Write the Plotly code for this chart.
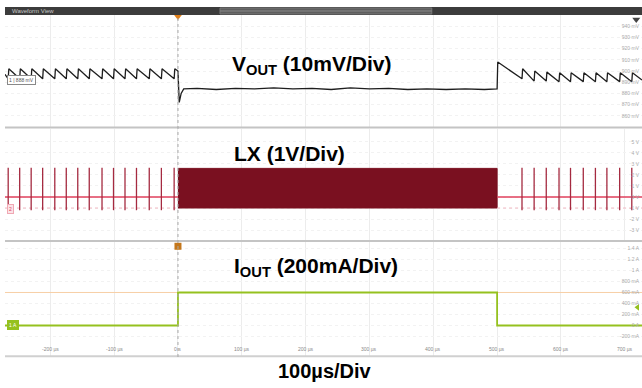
import plotly.graph_objects as go

# time base, microseconds
x_range = [-271, 727]
x_ticks = [-200, -100, 0, 100, 200, 300, 400, 500, 600, 700]
x_tick_text = ["-200 µs", "-100 µs", "0 s", "100 µs", "200 µs",
               "300 µs", "400 µs", "500 µs", "600 µs", "700 µs"]

# VOUT trace vertices (µs, mV)
vout_t = [-271, -266, -265, -248, -247, -230, -229, -212, -211, -193, -192,
          -175, -174, -157, -156, -139, -138, -119, -118, -101, -100, -83, -82,
          -65, -64, -45, -44, -26, -25, -6, -5, 0,
          2, 5, 9, 30, 60, 90, 120, 150, 180, 210, 240, 270, 300, 330, 360,
          390, 420, 450, 480, 499,
          500, 501, 539, 540, 558, 559, 577, 578, 597, 598, 615, 616, 635, 636,
          654, 655, 672, 673, 692, 693, 711, 712, 727]
vout_mv = [897, 893, 902, 893, 902, 893, 902, 893, 902, 893, 902,
           893, 902, 893, 902, 893, 902, 893, 902, 893, 902, 893, 902,
           893, 902, 893, 902, 893, 902, 893, 902, 900,
           872, 880, 884, 884.5, 883.5, 884.5, 884, 885, 884, 884.5, 883.5, 885,
           884, 884.5, 883.5, 884, 883.5, 884, 883.5, 883.5,
           884, 908, 893, 902, 891, 900, 891, 899, 890.5, 898.5, 890.5, 898.5,
           890.5, 898.5, 890.5, 898.5, 890.5, 898.5, 890.5, 898.5, 890.5,
           898.5, 892]
vout_ticks = [860, 870, 880, 890, 900, 910, 920, 930, 940]
vout_tick_text = ["860 mV", "870 mV", "880 mV", "890 mV", "900 mV",
                  "910 mV", "920 mV", "930 mV", "940 mV"]

# LX switch node (V)
lx_pulse_t = [-266, -248, -230, -212, -193, -175, -157, -139, -119, -101,
              -83, -65, -45, -26, -6,
              539, 558, 577, 597, 615, 635, 654, 672, 692, 711]
lx_pulse_high = 2.65
lx_pulse_low = -1.2
lx_idle_t = [-271, 0, None, 500, 727]
lx_idle_v = [0, 0, None, 0, 0]
lx_burst_t = [0, 500]
lx_burst_high = 2.6
lx_burst_low = -1.0
lx_ticks = [-3, -2, -1, 0, 1, 2, 3, 4, 5]
lx_tick_text = ["-3 V", "-2 V", "-1 V", "0 V", "1 V", "2 V", "3 V", "4 V", "5 V"]

# IOUT load step (A)
iout_t = [-271, 0, 0, 500, 500, 727]
iout_a = [0, 0, 0.6, 0.6, 0, 0]
iout_ticks = [-0.2, 0, 0.2, 0.4, 0.6, 0.8, 1.0, 1.2, 1.4]
iout_tick_text = ["-200 mA", "0 A", "200 mA", "400 mA", "600 mA",
                  "800 mA", "1 A", "1.2 A", "1.4 A"]
trigger_level = 0.6

FONT = "Liberation Sans, Arial, sans-serif"
GRID = "#ececec"

fig = go.Figure()

# VOUT
fig.add_trace(go.Scatter(x=vout_t, y=vout_mv, mode="lines",
                         line=dict(color="#1e1e1e", width=1.3),
                         xaxis="x", yaxis="y", hoverinfo="skip"))

# LX burst during load, idle baseline, pulses in PFM
fig.add_trace(go.Scatter(
    x=[lx_burst_t[0], lx_burst_t[1], lx_burst_t[1], lx_burst_t[0]],
    y=[lx_burst_high, lx_burst_high, lx_burst_low, lx_burst_low],
    fill="toself", fillcolor="#7a1020", mode="lines",
    line=dict(color="#7a1020", width=1), xaxis="x2", yaxis="y2", hoverinfo="skip"))
fig.add_trace(go.Scatter(x=lx_idle_t, y=[lx_burst_low] * 2 + [None] + [lx_burst_low] * 2,
                         mode="lines", line=dict(color="#f2b8c2", width=1, dash="dot"),
                         xaxis="x2", yaxis="y2", hoverinfo="skip"))
fig.add_trace(go.Scatter(x=lx_idle_t, y=lx_idle_v, mode="lines",
                         line=dict(color="#e0405c", width=1.3),
                         xaxis="x2", yaxis="y2", hoverinfo="skip"))
px, py = [], []
for t in lx_pulse_t:
    px += [t, t, None]
    py += [lx_pulse_low, lx_pulse_high, None]
fig.add_trace(go.Scatter(x=px, y=py, mode="lines",
                         line=dict(color="#a52a40", width=1.3),
                         xaxis="x2", yaxis="y2", hoverinfo="skip"))

# IOUT
fig.add_trace(go.Scatter(x=x_range, y=[trigger_level] * 2, mode="lines",
                         line=dict(color="#f7cfa6", width=1),
                         xaxis="x3", yaxis="y3", hoverinfo="skip"))
fig.add_trace(go.Scatter(x=iout_t, y=iout_a, mode="lines",
                         line=dict(color="#95c11f", width=1.8),
                         xaxis="x3", yaxis="y3", hoverinfo="skip"))

# trigger markers
fig.add_trace(go.Scatter(x=[0], y=[949], mode="markers", cliponaxis=False,
                         marker=dict(symbol="triangle-down", size=8, color="#e0801a"),
                         xaxis="x", yaxis="y", hoverinfo="skip"))
fig.add_trace(go.Scatter(x=[0], y=[1.44], mode="markers", cliponaxis=False,
                         marker=dict(symbol="square", size=7, color="#c4771c"),
                         xaxis="x3", yaxis="y3", hoverinfo="skip"))
fig.add_trace(go.Scatter(x=[718], y=[946], mode="markers",
                         marker=dict(symbol="triangle-down", size=7, color="#444"),
                         xaxis="x", yaxis="y", hoverinfo="skip"))
fig.add_trace(go.Scatter(x=[720], y=[0.33], mode="markers",
                         marker=dict(symbol="triangle-left", size=6, color="#95c11f"),
                         xaxis="x3", yaxis="y3", hoverinfo="skip"))

xcommon = dict(range=x_range, tickvals=x_ticks, showgrid=True, gridcolor=GRID,
               zeroline=False, showline=False, ticks="", fixedrange=True,
               showticklabels=False)
ycommon = dict(side="right", ticklabelposition="inside", showgrid=True,
               gridcolor="#f2f2f2", griddash="dot", zeroline=False, ticks="",
               fixedrange=True, tickfont=dict(size=5, color="#aaa", family=FONT))

fig.update_layout(
    width=642, height=388,
    margin=dict(l=5, r=0, t=15, b=31),
    paper_bgcolor="white", plot_bgcolor="white",
    showlegend=False,
    xaxis=dict(xcommon, anchor="y"),
    xaxis2=dict(xcommon, anchor="y2", matches="x"),
    xaxis3=dict(xcommon, anchor="y3", matches="x"),
    yaxis=dict(ycommon, domain=[0.6725, 1], anchor="x", range=[850, 950],
               tickvals=vout_ticks, ticktext=vout_tick_text),
    yaxis2=dict(ycommon, domain=[0.342, 0.6667], anchor="x2", range=[-3.91, 6.18],
                tickvals=lx_ticks, ticktext=lx_tick_text),
    yaxis3=dict(ycommon, domain=[0, 0.3363], anchor="x3", range=[-0.573, 1.518],
                tickvals=iout_ticks, ticktext=iout_tick_text),
)

# time labels sit inside the bottom of the last panel
for t, label in zip(x_ticks, x_tick_text):
    fig.add_annotation(text=label, x=t, y=0.022, xref="x3", yref="paper",
                       showarrow=False, xanchor="center", yanchor="middle",
                       font=dict(family=FONT, size=5, color="#888"))

# header bar, panel separators, trigger line
shapes = [
    dict(type="rect", xref="paper", yref="paper", x0=0, x1=1, y0=1.0, y1=1.0234,
         fillcolor="#3c3c3c", line=dict(width=0)),
    dict(type="rect", xref="paper", yref="paper", x0=0.3375, x1=0.670, y0=1.003, y1=1.0205,
         fillcolor="#5e5e5e", line=dict(color="#777", width=1)),
    dict(type="line", xref="paper", yref="paper", x0=0.3375, x1=0.670, y0=1.0117, y1=1.0117,
         line=dict(color="#8a8a8a", width=1)),
    dict(type="line", xref="paper", yref="paper", x0=0, x1=1, y0=0.671, y1=0.671,
         line=dict(color="#c4c4c4", width=2)),
    dict(type="line", xref="paper", yref="paper", x0=0, x1=1, y0=0.339, y1=0.339,
         line=dict(color="#c4c4c4", width=2)),
    dict(type="line", xref="paper", yref="paper", x0=0, x1=1, y0=0.002, y1=0.002,
         line=dict(color="#d0d0d0", width=2)),
    dict(type="line", xref="x", yref="paper", x0=0, x1=0, y0=0, y1=1,
         line=dict(color="#a8a8a8", width=1, dash="dot")),
]
fig.update_layout(shapes=shapes)

title_font = dict(family=FONT, size=21, color="black", weight="bold")
annotations = [
    dict(text="V<sub>OUT</sub> (10mV/Div)", x=0.353, y=0.855, xanchor="left"),
    dict(text="LX (1V/Div)", x=0.356, y=0.594, xanchor="left"),
    dict(text="I<sub>OUT</sub> (200mA/Div)", x=0.356, y=0.262, xanchor="left"),
    dict(text="100µs/Div", x=0.502, y=-0.041, xanchor="center",
         font=dict(family=FONT, size=20, color="black", weight="bold")),
]
for a in annotations:
    a.setdefault("font", title_font)
    fig.add_annotation(xref="paper", yref="paper", yanchor="middle",
                       showarrow=False, **a)

fig.add_annotation(text="Waveform View", xref="paper", yref="paper", x=0.008, y=1.0117,
                   xanchor="left", yanchor="middle", showarrow=False,
                   font=dict(family=FONT, size=6, color="#c8c8c8"))
fig.add_annotation(text="1 | 888 mV", xref="x", yref="y", x=-268, y=892,
                   xanchor="left", showarrow=False, bgcolor="white",
                   bordercolor="#888", borderwidth=1, borderpad=1,
                   font=dict(family=FONT, size=5, color="#555"))
fig.add_annotation(text="2", xref="x2", yref="y2", x=-268, y=-1.1,
                   xanchor="left", showarrow=False, bgcolor="#fbe3e7",
                   bordercolor="#f0a8b4", borderwidth=1, borderpad=1,
                   font=dict(family=FONT, size=5, color="#e0405c"))
fig.add_annotation(text="1 A", xref="x3", yref="y3", x=-268, y=0,
                   xanchor="left", showarrow=False, bgcolor="#95c11f",
                   bordercolor="#95c11f", borderwidth=1, borderpad=1,
                   font=dict(family=FONT, size=5, color="white"))

fig.write_html("out.html", config={"displayModeBar": False},
               post_script="document.body.style.margin='0';")
